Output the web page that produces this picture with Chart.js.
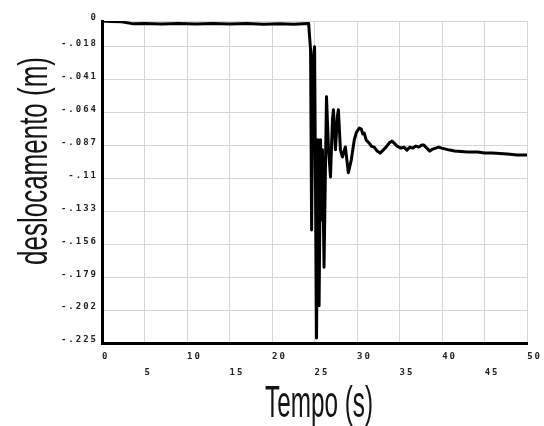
<!DOCTYPE html>
<html>
<head>
<meta charset="utf-8">
<script src="https://cdn.jsdelivr.net/npm/chart.js@4/dist/chart.umd.min.js"></script>
<style>
  html, body { margin: 0; padding: 0; background: #fff; }
  canvas { display: block; }
</style>
</head>
<body>
<canvas id="c" width="544" height="426"></canvas>
<script>
// Time samples (s)
const tempo = [
  0, 1.0, 2.3, 3.7, 5.0, 7.0, 9.0, 11.0, 13.0, 15.0, 17.0, 19.0, 21.0, 22.5, 24.3,
  24.53, 24.65, 24.82, 25.0, 25.23, 25.39, 25.53, 25.7, 25.82, 25.93, 26.11, 26.4, 26.64, 26.87,
  27.1, 27.22, 27.45, 27.69, 27.8, 28.04, 28.27, 28.62, 28.97, 29.32, 29.67, 29.91,
  30.26, 30.49, 30.67, 30.84, 31.07, 31.43, 31.66, 32.01, 32.36, 32.71, 33.06, 33.41,
  33.76, 34.11, 34.35, 34.7, 35.16, 35.51, 35.86, 36.21, 36.57, 36.92, 37.27, 37.62,
  37.85, 38.2, 38.55, 38.9, 39.25, 39.6, 39.95, 40.42, 40.89, 41.47, 42.99, 44.16,
  44.98, 45.91, 47.66, 48.83, 50.0
];
// Displacement (m)
const deslocamento = [
  0, -0.0003, -0.0006, -0.0020, -0.0018, -0.0021, -0.0018, -0.0021, -0.0018, -0.0021,
  -0.0018, -0.0022, -0.0019, -0.0022, -0.0017,
  -0.0203, -0.146, -0.027, -0.018, -0.2215, -0.083, -0.199, -0.083, -0.139, -0.090, -0.172, -0.053, -0.090, -0.109,
  -0.069, -0.062, -0.090, -0.066, -0.062, -0.090, -0.095, -0.088, -0.106, -0.097, -0.083, -0.078,
  -0.0748, -0.0755, -0.0790, -0.0783, -0.0832, -0.0853, -0.0874, -0.0881, -0.0909, -0.0923, -0.0902, -0.0881,
  -0.0853, -0.0839, -0.0853, -0.0874, -0.0888, -0.0881, -0.0902, -0.0881, -0.0888, -0.0874, -0.0881, -0.0867,
  -0.0867, -0.0888, -0.0909, -0.0895, -0.0888, -0.0881, -0.0888, -0.0895, -0.0902, -0.0909, -0.0916, -0.0916,
  -0.0923, -0.0923, -0.0930, -0.0937, -0.0937
];

const xTicks = [0, 5, 10, 15, 20, 25, 30, 35, 40, 45, 50];
const yTicks = [0, -0.018, -0.041, -0.064, -0.087, -0.11, -0.133, -0.156, -0.179, -0.202, -0.225];
const yTickLabels = ['0', '-.018', '-.041', '-.064', '-.087', '-.11', '-.133', '-.156', '-.179', '-.202', '-.225'];

const xTitle = 'Tempo (s)';
const yTitle = 'deslocamento (m)';

// Small wide-set tick font
const tickSpacing = {
  id: 'tickSpacing',
  beforeDraw(chart) { chart.ctx.letterSpacing = '2px'; },
  afterDraw(chart) { chart.ctx.letterSpacing = '0px'; }
};

// Tall condensed axis titles
const axisTitles = {
  id: 'axisTitles',
  afterDraw(chart) {
    const ctx = chart.ctx;
    ctx.save();
    ctx.letterSpacing = '0px';
    ctx.fillStyle = '#141414';
    ctx.textAlign = 'center';
    ctx.textBaseline = 'alphabetic';

    ctx.font = '44px "Liberation Sans"';
    const wx = ctx.measureText(xTitle).width;
    ctx.translate(319, 417);
    ctx.scale(108 / wx, 1);
    ctx.fillText(xTitle, 0, 0);
    ctx.restore();

    ctx.save();
    ctx.letterSpacing = '0px';
    ctx.fillStyle = '#141414';
    ctx.textAlign = 'center';
    ctx.textBaseline = 'alphabetic';
    ctx.font = '40px "Liberation Sans"';
    const wy = ctx.measureText(yTitle).width;
    ctx.translate(47, 161);
    ctx.rotate(-Math.PI / 2);
    ctx.scale(208 / wy, 1);
    ctx.fillText(yTitle, 0, 0);
    ctx.restore();
  }
};

const tickFont = { family: '"DejaVu Sans Mono", monospace', size: 9, weight: 'bold', lineHeight: 16 / 9 };

new Chart(document.getElementById('c'), {
  type: 'line',
  data: {
    datasets: [{
      data: tempo.map((t, i) => ({ x: t, y: deslocamento[i] })),
      borderColor: '#000',
      borderWidth: 3,
      borderJoinStyle: 'round',
      pointRadius: 0,
      tension: 0,
      fill: false
    }]
  },
  options: {
    responsive: false,
    animation: false,
    devicePixelRatio: 1,
    layout: { padding: { left: 0, right: 14, top: 21, bottom: 0 } },
    plugins: { legend: { display: false }, tooltip: { enabled: false } },
    scales: {
      x: {
        type: 'linear',
        min: 0,
        max: 50,
        afterBuildTicks(scale) { scale.ticks = xTicks.map(v => ({ value: v })); },
        afterFit(scale) { scale.height = 83; },
        grid: { color: '#d6d6d6', lineWidth: 1, drawTicks: false },
        border: { display: true, color: '#000', width: 3 },
        ticks: {
          autoSkip: false,
          maxRotation: 0,
          align: 'start',
          padding: 6,
          color: '#222',
          font: tickFont,
          callback(value, index) {
            const s = String(xTicks[index]);
            return index % 2 === 1 ? ['', s] : s;
          }
        }
      },
      y: {
        type: 'linear',
        min: -0.225,
        max: 0,
        afterBuildTicks(scale) { scale.ticks = yTicks.map(v => ({ value: v })); },
        afterFit(scale) { scale.width = 102; },
        grid: { color: '#d6d6d6', lineWidth: 1, drawTicks: false },
        border: { display: true, color: '#000', width: 3 },
        ticks: {
          autoSkip: false,
          padding: 4,
          labelOffset: -3,
          color: '#222',
          font: tickFont,
          callback(value, index) { return yTickLabels[index]; }
        }
      }
    }
  },
  plugins: [tickSpacing, axisTitles]
});
</script>
</body>
</html>
